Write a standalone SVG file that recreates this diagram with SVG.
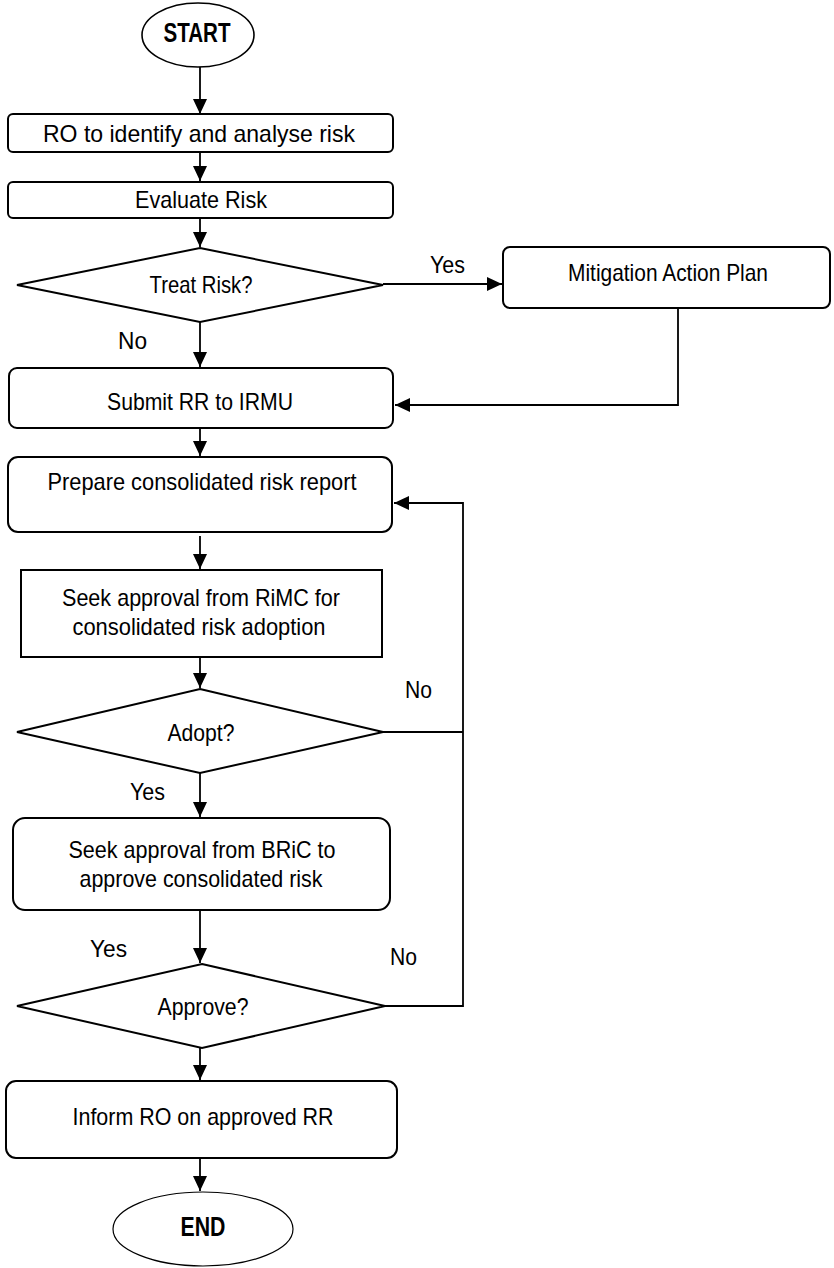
<svg xmlns="http://www.w3.org/2000/svg" width="834" height="1268" viewBox="0 0 834 1268">
<style>
.bg{fill:#fff}
.box{fill:#fff;stroke:#000;stroke-width:2}
.term{fill:#fff;stroke:#000;stroke-width:1.6}
.t{font-family:"Liberation Sans",Arial,sans-serif;font-size:24px;fill:#000;text-anchor:middle}
.b{font-weight:bold;font-size:27px}
.lbl{font-family:"Liberation Sans",Arial,sans-serif;font-size:24px;fill:#000}
.c{fill:none;stroke:#000;stroke-width:1.8}
</style>
<defs>
<marker id="ah" markerUnits="userSpaceOnUse" markerWidth="16" markerHeight="14" refX="15" refY="7" orient="auto">
<path d="M0,0 L15,7 L0,14 z" fill="#000"/>
</marker>
</defs>
<rect class="bg" x="0" y="0" width="834" height="1268"/>

<g id="connectors">
<line class="c" x1="200" y1="67" x2="200" y2="114" marker-end="url(#ah)"/>
<line class="c" x1="200" y1="152" x2="200" y2="181" marker-end="url(#ah)"/>
<line class="c" x1="200" y1="218" x2="200" y2="247" marker-end="url(#ah)"/>
<polyline class="c" points="383,284 502,284" marker-end="url(#ah)"/>
<line class="c" x1="200" y1="322" x2="200" y2="367" marker-end="url(#ah)"/>
<polyline class="c" points="678,308 678,405 395,405" marker-end="url(#ah)"/>
<line class="c" x1="200" y1="428" x2="200" y2="456" marker-end="url(#ah)"/>
<line class="c" x1="200" y1="536" x2="200" y2="569" marker-end="url(#ah)"/>
<line class="c" x1="200" y1="657" x2="200" y2="688" marker-end="url(#ah)"/>
<line class="c" x1="200" y1="773" x2="200" y2="817" marker-end="url(#ah)"/>
<line class="c" x1="200" y1="910" x2="200" y2="963" marker-end="url(#ah)"/>
<line class="c" x1="200" y1="1048" x2="200" y2="1080" marker-end="url(#ah)"/>
<line class="c" x1="200" y1="1158" x2="200" y2="1191" marker-end="url(#ah)"/>
<polyline class="c" points="383,732 463,732"/>
<polyline class="c" points="385,1006 463,1006 463,503 394,503" marker-end="url(#ah)"/>
<text class="lbl" x="430" y="273" textLength="35" lengthAdjust="spacingAndGlyphs">Yes</text>
<text class="lbl" x="118" y="349" textLength="29" lengthAdjust="spacingAndGlyphs">No</text>
<text class="lbl" x="405" y="698" textLength="27" lengthAdjust="spacingAndGlyphs">No</text>
<text class="lbl" x="130" y="800" textLength="35" lengthAdjust="spacingAndGlyphs">Yes</text>
<text class="lbl" x="90" y="957" textLength="37" lengthAdjust="spacingAndGlyphs">Yes</text>
<text class="lbl" x="390" y="965" textLength="27" lengthAdjust="spacingAndGlyphs">No</text>
</g>

<g id="start">
<ellipse class="term" cx="198" cy="35" rx="56" ry="32"/>
<text class="t b" x="197" y="42" textLength="67" lengthAdjust="spacingAndGlyphs">START</text>
</g>
<g id="identify">
<rect class="box" x="8" y="114" width="385" height="38" rx="5"/>
<text class="t" x="199" y="142" textLength="312" lengthAdjust="spacingAndGlyphs">RO to identify and analyse risk</text>
</g>
<g id="evaluate">
<rect class="box" x="8" y="182" width="385" height="36" rx="5"/>
<text class="t" x="201" y="208" textLength="132" lengthAdjust="spacingAndGlyphs">Evaluate Risk</text>
</g>
<g id="treat">
<polygon class="box" points="200,248 383,285 200,322 17,285"/>
<text class="t" x="201" y="293" textLength="103" lengthAdjust="spacingAndGlyphs">Treat Risk?</text>
</g>
<g id="mitigation">
<rect class="box" x="503" y="247" width="327" height="61" rx="7"/>
<text class="t" x="668" y="281" textLength="200" lengthAdjust="spacingAndGlyphs">Mitigation Action Plan</text>
</g>
<g id="submit">
<rect class="box" x="9" y="368" width="384" height="60" rx="8"/>
<text class="t" x="200" y="410" textLength="186" lengthAdjust="spacingAndGlyphs">Submit RR to IRMU</text>
</g>
<g id="prepare">
<rect class="box" x="8" y="457" width="384" height="75" rx="10"/>
<text class="t" x="202" y="490" textLength="309" lengthAdjust="spacingAndGlyphs">Prepare consolidated risk report</text>
</g>
<g id="rimc">
<rect class="box" x="21" y="570" width="361" height="87"/>
<text class="t" x="201" y="606" textLength="278" lengthAdjust="spacingAndGlyphs">Seek approval from RiMC for</text>
<text class="t" x="199" y="635" textLength="253" lengthAdjust="spacingAndGlyphs">consolidated risk adoption</text>
</g>
<g id="adopt">
<polygon class="box" points="200,689 383,732 200,773 17,732"/>
<text class="t" x="201" y="741" textLength="67" lengthAdjust="spacingAndGlyphs">Adopt?</text>
</g>
<g id="bric">
<rect class="box" x="13" y="818" width="377" height="92" rx="12"/>
<text class="t" x="202" y="858" textLength="267" lengthAdjust="spacingAndGlyphs">Seek approval from BRiC to</text>
<text class="t" x="201" y="887" textLength="243" lengthAdjust="spacingAndGlyphs">approve consolidated risk</text>
</g>
<g id="approve">
<polygon class="box" points="202,964 385,1006 202,1048 17,1006"/>
<text class="t" x="203" y="1015" textLength="91" lengthAdjust="spacingAndGlyphs">Approve?</text>
</g>
<g id="inform">
<rect class="box" x="6" y="1081" width="391" height="77" rx="10"/>
<text class="t" x="203" y="1125" textLength="261" lengthAdjust="spacingAndGlyphs">Inform RO on approved RR</text>
</g>
<g id="end">
<ellipse class="term" cx="203" cy="1229" rx="90" ry="37" style="stroke-width:1.2"/>
<text class="t b" x="203" y="1236" textLength="45" lengthAdjust="spacingAndGlyphs">END</text>
</g>
</svg>
